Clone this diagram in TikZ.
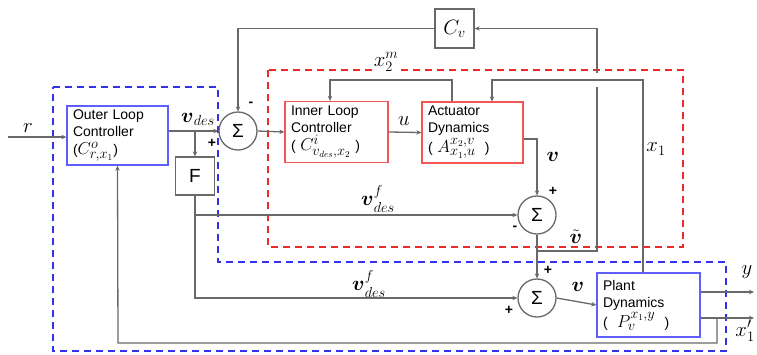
\documentclass[tikz,border=0pt]{standalone}
\usepackage{amsmath}
\usepackage{fontspec}
\setmainfont{Liberation Sans}
\usetikzlibrary{arrows.meta}
\definecolor{lgray}{RGB}{105,105,105}
\definecolor{dblue}{RGB}{50,50,235}
\definecolor{dred}{RGB}{240,40,40}
\definecolor{bblue}{RGB}{95,95,255}
\definecolor{bred}{RGB}{245,85,85}
\newcommand\zbig{\fontsize{19}{19}\selectfont}
\begin{document}
\begin{tikzpicture}[x=1pt,y=-1pt,
 wire/.style={draw=lgray,line width=1.3pt},
 arr/.style={wire,-{Stealth[length=5pt,width=4.5pt]}},
 blk/.style={draw,line width=1.3pt,align=left,inner xsep=6pt,inner ysep=0pt,
   font=\fontsize{14}{17}\selectfont,text width=#1},
 sum/.style={circle,draw=lgray,line width=1.3pt,minimum size=38pt,inner sep=0pt,
   font=\fontsize{19}{19}\selectfont},
 lbl/.style={inner sep=1pt,font=\fontsize{21}{21}\selectfont},
 sgn/.style={inner sep=0pt,font=\bfseries\fontsize{14}{14}\selectfont},
 dsh/.style={line width=2.3pt,dash pattern=on 7pt off 5pt}]
\useasboundingbox (0,0) rectangle (757,354);

% dashed regions
\draw[dsh,draw=dblue] (53,87) -- (218,87) -- (218,262) -- (726,262) -- (726,351) -- (53,351) -- cycle;
\draw[dsh,draw=dred] (268,70) rectangle (683,247);

% blocks
\node[blk=89pt,draw=bblue,minimum height=59pt] (outer) at (117.5,135.5)
  {Outer Loop\\Controller\\[1pt]({\zbig$C^{o}_{r,x_1}$})};
\node[sum] (sig1) at (238,131) {Σ};
\node[draw=lgray,line width=1.3pt,minimum width=39pt,minimum height=38pt,inner sep=0pt,
  font=\fontsize{19}{19}\selectfont] (F) at (195,176) {F};
\node[draw=lgray,line width=1.3pt,minimum width=39pt,minimum height=39pt,inner sep=0pt]
  (Cv) at (454.5,28.5) {{\fontsize{21}{21}\selectfont$C_{v}$}};
\node[blk=91pt,draw=bred,minimum height=61pt] (inner) at (336.5,132)
  {Inner Loop\\Controller\\[1pt]( {\zbig$C^{i}_{v_{des},x_2}$} )};
\node[blk=89pt,draw=bred,minimum height=61pt] (act) at (472.5,132.5)
  {Actuator\\Dynamics\\[1pt]( {\zbig$A^{x_2,v}_{x_1,u}$}\ \ )};
\node[sum] (sig2) at (537,215) {Σ};
\node[sum] (sig3) at (537,298) {Σ};
\node[blk=91pt,draw=bblue,minimum height=64pt] (plant) at (648.5,305)
  {Plant\\Dynamics\\[1pt](\ \ {\zbig$P^{x_1,y}_{v}$}\ \ )};

% coordinates
\coordinate (rin) at (8,137);
\coordinate (b1) at (195,131);
\coordinate (vt) at (597,251);
\coordinate (hopA) at (597,87);
\coordinate (hopB) at (597,73);
\coordinate (x2a) at (452,80);
\coordinate (x2b) at (330,80);
\coordinate (x1a) at (643,80);
\coordinate (x1b) at (492,80);
\coordinate (aout) at (537,139);
\coordinate (yout) at (754,292);
\coordinate (xout) at (754,318);
\coordinate (fbk) at (717,318);
\coordinate (fbl) at (118,343);

% connectors
\draw[arr] (rin) -- (outer.west |- rin);
\draw[arr] (outer.east |- sig1) -- (sig1.west);
\draw[arr] (b1) -- (F.north);
\draw[arr] (Cv.west) -| (sig1.north);
\draw[arr] (sig1.east) -- (inner.west);
\draw[arr] (inner.east) -- (act.west);
\draw[arr] (act.north -| x2a) |- (x2b) -- (inner.north -| x2b);
\draw[arr] (plant.north -| x1a) -- (x1a) -- (x1b) -- (act.north -| x1b);
\draw[arr] (act.east |- aout) -- (aout) -- (sig2.north);
\draw[arr] (F.south) |- (sig2.west);
\draw[arr] (F.south) |- (sig3.west);
\draw[arr] (sig2.south) -- (sig3.north);
\draw[wire] (sig2.south |- vt) -- (vt) -- (hopA);
\draw[arr] (hopB) |- (Cv.east);
\draw[arr] (sig3.east) -- (plant.west);
\draw[arr] (plant.east |- yout) -- (yout);
\draw[arr] (plant.east |- xout) -- (xout);
\draw[arr] (fbk) |- (fbl) -- (outer.south);

% labels
\node[lbl] (lr) at (28,128) {$r$};
\node[lbl] (lvdes) at (198,119) {$\boldsymbol{v}_{des}$};
\node[sgn] (p1) at (212,143) {+};
\node[sgn] (m1) at (251,104) {-};
\node[lbl,fill=white] (lx2m) at (386,62) {$x_2^{m}$};
\node[lbl] (lu) at (404,121) {$u$};
\node[lbl] (lv1) at (553,157) {$\boldsymbol{v}$};
\node[sgn] (p2) at (553,191) {+};
\node[sgn] (m2) at (515,228) {-};
\node[lbl] (lvf1) at (378,199) {$\boldsymbol{v}^{f}_{des}$};
\node[lbl] (lvf2) at (369,284) {$\boldsymbol{v}^{f}_{des}$};
\node[lbl,fill=white,inner sep=0pt] (lvt) at (576,237) {$\tilde{\boldsymbol{v}}$};
\node[sgn] (p3) at (548,270) {+};
\node[sgn] (p4) at (509,310) {+};
\node[lbl] (lv2) at (578,287) {$\boldsymbol{v}$};
\node[lbl] (lx1) at (656,149) {$x_1$};
\node[lbl] (ly) at (747,272) {$y$};
\node[lbl] (lx1o) at (745,331) {$x_1^{\prime}$};
\end{tikzpicture}
\end{document}
